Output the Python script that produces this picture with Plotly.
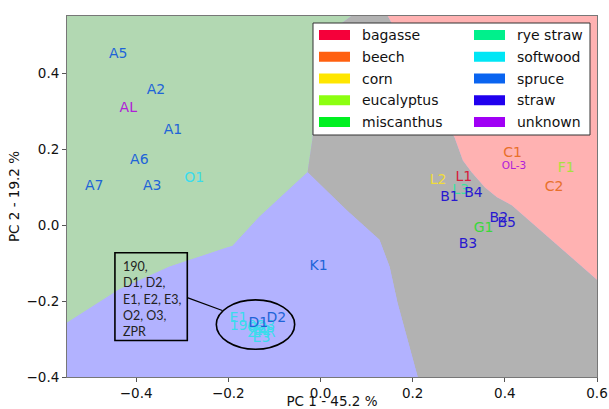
import plotly.graph_objects as go

# ---------------- data ----------------
categories = ["bagasse", "beech", "corn", "eucalyptus", "miscanthus",
              "rye straw", "softwood", "spruce", "straw", "unknown"]
category_colors = ["#f5003a", "#ff6010", "#ffe600", "#8cff10", "#00f020",
                   "#00f08c", "#00e6f5", "#0a64f0", "#2000ee", "#a000f5"]
text_colors = {"bagasse": "#d81a3a", "beech": "#e8702a", "corn": "#f0dc3a",
               "eucalyptus": "#a8e040", "miscanthus": "#3ad83a",
               "rye straw": "#3ae0a0", "softwood": "#3adcec", "spruce": "#1e64d8",
               "straw": "#2818d0", "unknown": "#b020d8"}

sample_labels = ["A5", "A2", "AL", "A1", "A6", "A7", "A3", "O1",
                 "C1", "OL-3", "F1", "C2", "L2", "L1", "L3", "B4", "B1",
                 "B2", "B5", "G1", "B3", "K1",
                 "E1", "190", "E2", "O2", "O3", "ZPR", "E3", "D2", "D1"]
sample_category = ["spruce", "spruce", "unknown", "spruce", "spruce", "spruce", "spruce", "softwood",
                   "beech", "unknown", "eucalyptus", "beech", "corn", "bagasse", "rye straw", "straw", "straw",
                   "straw", "straw", "miscanthus", "straw", "spruce",
                   "softwood", "softwood", "softwood", "softwood", "softwood", "softwood", "softwood", "spruce", "spruce"]
pc1 = [-0.439, -0.357, -0.417, -0.320, -0.393, -0.491, -0.365, -0.274,
       0.417, 0.420, 0.533, 0.507, 0.255, 0.311, 0.304, 0.332, 0.280,
       0.387, 0.404, 0.354, 0.320, -0.004,
       -0.178, -0.168, -0.126, -0.137, -0.120, -0.128, -0.128, -0.096, -0.135]
pc2 = [0.450, 0.353, 0.306, 0.249, 0.170, 0.102, 0.102, 0.123,
       0.188, 0.154, 0.149, 0.100, 0.118, 0.125, 0.092, 0.084, 0.073,
       0.018, 0.005, -0.008, -0.052, -0.110,
       -0.246, -0.267, -0.280, -0.272, -0.268, -0.285, -0.298, -0.246, -0.259]

# decision-region boundaries (data coordinates)
x_min, x_max, y_min, y_max = -0.55, 0.6, -0.4, 0.55
green_gray_x = [0.067, -0.010, -0.017, -0.028]
green_gray_y = [0.550, 0.480, 0.230, 0.139]
green_lav_x = [-0.028, -0.133, -0.191, -0.204, -0.328, -0.437, -0.550]
green_lav_y = [0.139, 0.021, -0.055, -0.060, -0.110, -0.170, -0.257]
gray_lav_x = [-0.028, 0.057, 0.128, 0.150, 0.167, 0.193, 0.211]
gray_lav_y = [0.139, 0.039, -0.039, -0.110, -0.204, -0.319, -0.400]
gray_pink_x = [0.146, 0.291, 0.309, 0.328, 0.357, 0.383, 0.415, 0.600]
gray_pink_y = [0.550, 0.230, 0.170, 0.139, 0.099, 0.073, 0.052, -0.144]
region_colors = {"green": "#b2d8b2", "gray": "#b2b2b2", "pink": "#ffb2b2", "lav": "#b2b2ff"}

callout_labels = "190,<br>D1, D2,<br>E1, E2, E3,<br>O2, O3,<br>ZPR"

# ---------------- figure ----------------
fig = go.Figure()

def region(xs, ys, color):
    fig.add_trace(go.Scatter(x=xs, y=ys, fill="toself", fillcolor=color, mode="lines",
                             line=dict(width=0, color=color), hoverinfo="skip", showlegend=False))

region([x_min] + green_gray_x + green_lav_x[1:], [y_max] + green_gray_y + green_lav_y[1:],
       region_colors["green"])
region(green_gray_x[:1] + gray_pink_x + [x_max, gray_lav_x[-1]] + gray_lav_x[::-1][1:] + green_gray_x[::-1][1:],
       green_gray_y[:1] + gray_pink_y + [y_min, gray_lav_y[-1]] + gray_lav_y[::-1][1:] + green_gray_y[::-1][1:],
       region_colors["gray"])
region(gray_pink_x[:1] + [x_max] + gray_pink_x[::-1],
       gray_pink_y[:1] + [y_max] + gray_pink_y[::-1], region_colors["pink"])
region([x_min, x_min] + gray_lav_x[::-1] + green_lav_x[1:],
       [green_lav_y[-1], y_min] + gray_lav_y[::-1] + green_lav_y[1:], region_colors["lav"])

# sample labels
for lab, cat, x, y in zip(sample_labels, sample_category, pc1, pc2):
    fig.add_trace(go.Scatter(x=[x], y=[y], mode="text", text=[lab],
                             textfont=dict(family="DejaVu Sans", size=10.5 if lab == "OL-3" else 14,
                                           color=text_colors[cat]),
                             hoverinfo="skip", showlegend=False))

# callout: ellipse, box, connector
ell_cx, ell_cy, ell_rx, ell_ry = -0.141, -0.262, 0.085, 0.065
box_x0, box_x1, box_y0, box_y1 = -0.446, -0.289, -0.304, -0.073
fig.add_shape(type="circle", xref="x", yref="y", x0=ell_cx - ell_rx, x1=ell_cx + ell_rx,
              y0=ell_cy - ell_ry, y1=ell_cy + ell_ry, line=dict(color="black", width=1.6))
fig.add_shape(type="rect", xref="x", yref="y", x0=box_x0, x1=box_x1, y0=box_y0, y1=box_y1,
              line=dict(color="black", width=1.6))
fig.add_shape(type="line", xref="x", yref="y", x0=box_x1, y0=-0.191, x1=-0.213, y1=-0.225,
              line=dict(color="black", width=1.2))
fig.add_annotation(x=box_x0 + 0.013, y=box_y1 - 0.012, xref="x", yref="y", text=callout_labels,
                   showarrow=False, xanchor="left", yanchor="top", align="left",
                   font=dict(family="Lato", size=12.5, color="#222"))

# manual legend (two columns, five rows)
PL, PW, PT, PH = 67, 530, 16, 361
def px(v): return (v - PL) / PW
def py(v): return 1 - (v - PT) / PH
fig.add_shape(type="rect", xref="paper", yref="paper", x0=px(313), x1=px(590), y0=py(135), y1=py(23),
              line=dict(color="#333", width=1), fillcolor="white")
for i, (cat, col) in enumerate(zip(categories, category_colors)):
    c, r = divmod(i, 5)
    yc = 35 + r * 21.75
    sx = [319, 474][c]
    fig.add_shape(type="rect", xref="paper", yref="paper", x0=px(sx), x1=px(sx + 31),
                  y0=py(yc + 5), y1=py(yc - 5), line=dict(width=0), fillcolor=col)
    fig.add_annotation(x=px(sx + 41), y=py(yc), xref="paper", yref="paper", text=cat,
                       showarrow=False, xanchor="left", yanchor="middle",
                       font=dict(family="DejaVu Sans", size=14, color="#111"))

axis_common = dict(showgrid=False, zeroline=False, showline=True, mirror=True, linecolor="#777",
                   linewidth=1, ticks="outside", ticklen=4, tickcolor="#555",
                   tickfont=dict(family="DejaVu Sans", size=13.5, color="#111"), tickformat=".1f")
fig.update_xaxes(range=[x_min, x_max], tickvals=[-0.4, -0.2, 0.0, 0.2, 0.4, 0.6],
                 title=dict(text="PC 1 - 45.2 %", standoff=2,
                            font=dict(family="DejaVu Sans", size=13.5, color="#111")), **axis_common)
fig.update_yaxes(range=[y_min, y_max], tickvals=[-0.4, -0.2, 0.0, 0.2, 0.4],
                 title=dict(text="PC 2 - 19.2 %", standoff=3,
                            font=dict(family="DejaVu Sans", size=13.5, color="#111")), **axis_common)
fig.update_layout(width=609, height=409, margin=dict(l=67, r=12, t=16, b=32, autoexpand=False),
                  paper_bgcolor="white", plot_bgcolor=region_colors["lav"], showlegend=False)

fig.write_html("out.html")
